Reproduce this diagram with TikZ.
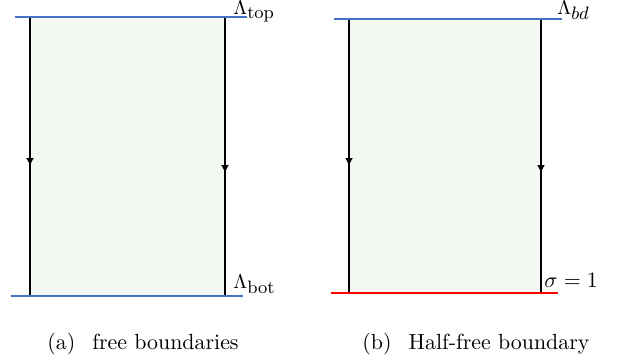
\documentclass[tikz,border=0pt]{standalone}
\usetikzlibrary{arrows.meta}
\definecolor{bdblue}{RGB}{68,114,196}
\definecolor{bdred}{RGB}{255,0,0}
\definecolor{bulk}{RGB}{243,248,242}
\newcommand{\subtxt}[1]{\hbox{\fontsize{9}{10}\selectfont #1}}
\tikzset{
	every node/.style={font=\fontsize{10.95}{13.6}\selectfont},
	bline/.style={bdblue,line width=1pt},
	rline/.style={bdred,line width=1pt},
	wallup/.style={line width=0.9pt,-{Latex[length=4pt,width=4pt]}},
	walldown/.style={line width=0.55pt},
	lbl/.style={anchor=base west,inner sep=0pt},
	lamlbl/.style={lbl,font=\fontsize{10}{12}\selectfont},
	caption/.style={anchor=base,inner sep=0pt}
}
\begin{document}
\begin{tikzpicture}[x=0.5pt,y=-0.5pt]
	\useasboundingbox (0,0) rectangle (618,360);
	\fill[bulk] (30,17) rectangle (225,296);
	\fill[bulk] (349,19) rectangle (541,293);

	\coordinate (a1) at (15,17);
	\coordinate (a2) at (247,17);
	\coordinate (a3) at (11,296);
	\coordinate (a4) at (243,296);
	\coordinate (a5) at (30,17);
	\coordinate (a6) at (30,166);
	\coordinate (a7) at (30,296);
	\coordinate (a8) at (225,17);
	\coordinate (a9) at (225,173);
	\coordinate (a10) at (225,296);

	\coordinate (b1) at (334,19);
	\coordinate (b2) at (562,19);
	\coordinate (b3) at (331,293);
	\coordinate (b4) at (558,293);
	\coordinate (b5) at (349,19);
	\coordinate (b6) at (349,166);
	\coordinate (b7) at (349,293);
	\coordinate (b8) at (541,19);
	\coordinate (b9) at (541,173);
	\coordinate (b10) at (541,293);

	\node[lamlbl] (atop) at (233,14) {$\Lambda_{\subtxt{top}}$};
	\node[lamlbl] (abot) at (233,288) {$\Lambda_{\subtxt{bot}}$};
	\node[lamlbl] (bbd) at (557,14) {$\Lambda_{\subtxt{$bd$}}$};
	\node[lbl] (bsig) at (544,287) {$\sigma = 1$};
	\node[caption] (acap) at (143,349) {(a)\hskip 8.5pt free boundaries};
	\node[caption] (bcap) at (476,349) {(b)\hskip 8.5pt Half-free boundary};

	\draw[walldown] (a5) -- (a7);
	\draw[walldown] (a8) -- (a10);
	\draw[walldown] (b5) -- (b7);
	\draw[walldown] (b8) -- (b10);
	\draw[wallup] (a5) -- (a6);
	\draw[wallup] (a8) -- (a9);
	\draw[wallup] (b5) -- (b6);
	\draw[wallup] (b8) -- (b9);
	\draw[bline] (a1) -- (a2);
	\draw[bline] (a3) -- (a4);
	\draw[bline] (b1) -- (b2);
	\draw[rline] (b3) -- (b4);
\end{tikzpicture}
\end{document}
